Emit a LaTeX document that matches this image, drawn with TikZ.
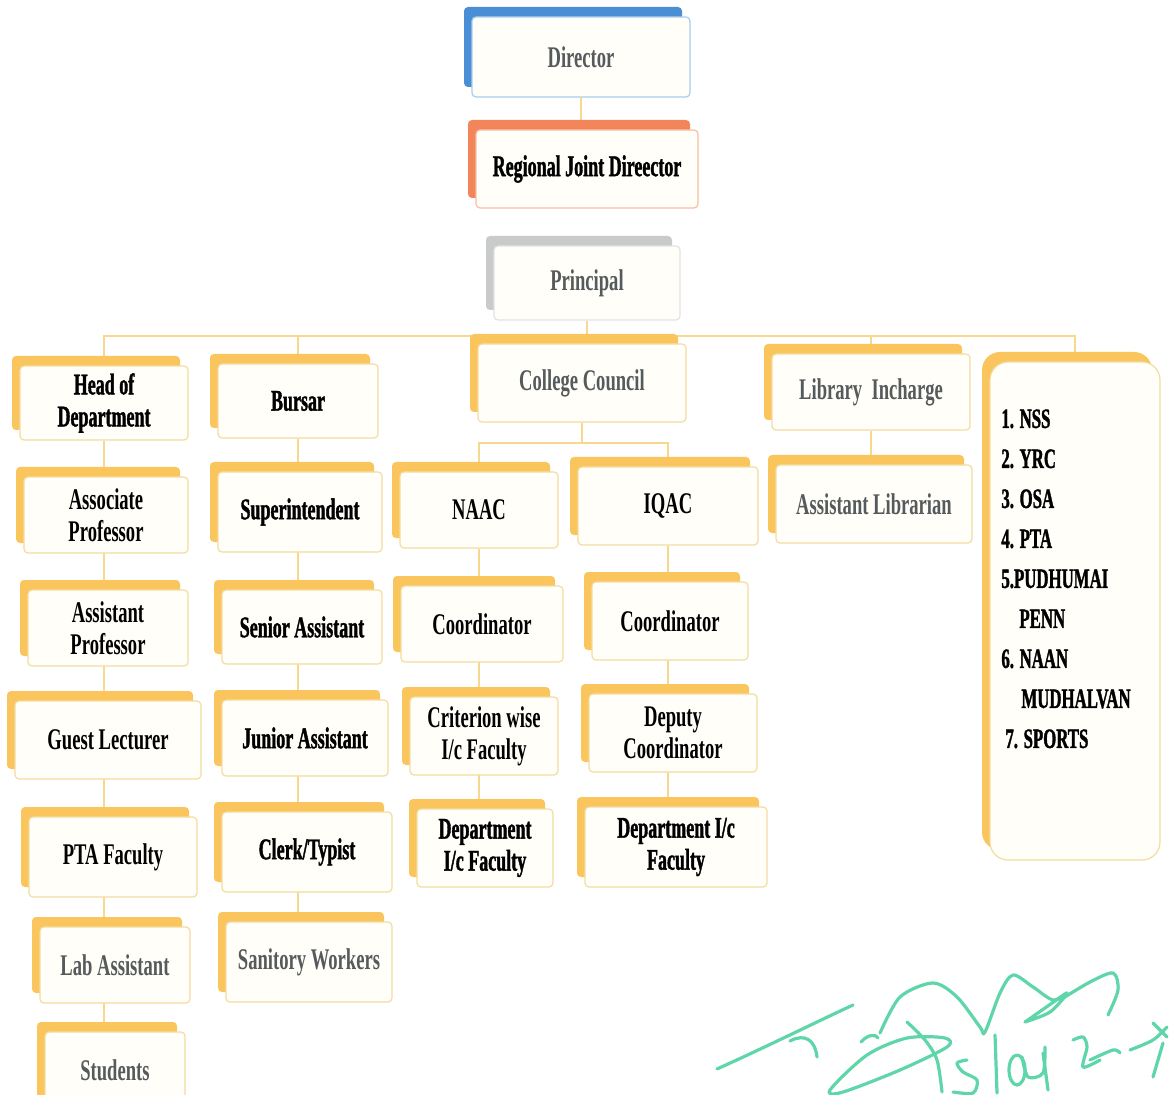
\documentclass[tikz,border=0pt]{standalone}
\usepackage{fontspec}
\newfontfamily\orgfont{Liberation Serif}[FakeStretch=0.62, BoldFont={Liberation Serif Bold}, BoldFeatures={FakeStretch=0.62}]
\newfontfamily\heavyfont{Liberation Serif Bold}[FakeStretch=0.6, FakeBold=1.2]
\usetikzlibrary{shadows,backgrounds}

\definecolor{ylback}{HTML}{F9C55C}
\definecolor{ylline}{HTML}{F7D88C}
\definecolor{ylborder}{HTML}{F3DCA0}
\definecolor{boxfill}{HTML}{FFFEF8}
\definecolor{blueback}{HTML}{4A8FD6}
\definecolor{blueborder}{HTML}{A9CDEB}
\definecolor{orangeback}{HTML}{F2855A}
\definecolor{orangeborder}{HTML}{F5BFA5}
\definecolor{grayback}{HTML}{C9CACA}
\definecolor{grayborder}{HTML}{E2E2E2}
\definecolor{txtgray}{HTML}{555A5C}
\definecolor{signgreen}{HTML}{5ED6A9}

\begin{document}
\begin{tikzpicture}[x=0.5pt, y=-0.5pt,
    orgbox/.style={draw=ylborder, fill=boxfill, line width=0.6pt, rounded corners=2pt,
      align=center, minimum height=38pt, inner sep=2pt, text=black,
      font=\orgfont\bfseries\fontsize{15}{16}\selectfont,
      general shadow={fill=#1, shadow xshift=-4pt, shadow yshift=5pt}},
    orgbox/.default=ylback,
    dim/.style={text=txtgray},
    heavy/.style={font=\heavyfont\fontsize{15}{16}\selectfont},
    listtext/.style={align=left, inner sep=0pt, text=black,
      font=\heavyfont\fontsize{14}{20}\selectfont},
    link/.style={draw=ylline, line width=1.2pt},
    sign/.style={draw=signgreen, line width=1.6pt, line cap=round, line join=round}]

  \useasboundingbox (0,0) rectangle (1170,1095);
  \clip (0,0) rectangle (1170,1095);

  % top of the chart
  \node[orgbox=blueback, draw=blueborder, dim, minimum width=109pt, minimum height=40pt] (dir) at (581,57) {Director};
  \node[orgbox=orangeback, draw=orangeborder, heavy, minimum width=111pt, minimum height=39pt] (rjd) at (587,169) {Regional Joint Direector};
  \node[orgbox=grayback, draw=grayborder, dim, minimum width=93pt, minimum height=37pt] (prin) at (587,283) {Principal};

  % second row
  \node[orgbox, heavy, minimum width=84pt, minimum height=37pt] (hod) at (104,403) {Head of\\Department};
  \node[orgbox, heavy, minimum width=80pt, minimum height=37pt] (bursar) at (298,401) {Bursar};
  \node[orgbox, dim, minimum width=104pt, minimum height=39pt] (cc) at (582,383) {College Council};
  \node[orgbox, dim, minimum width=99pt] (lib) at (871,392) {Library\ \ Incharge};
  \node[orgbox, rounded corners=9pt, minimum width=85pt, minimum height=249pt] (lst) at (1075,611) {};
  \node[listtext, anchor=north west] (lsttxt) at (1001,409) {1. NSS\\2. YRC\\3. OSA\\4. PTA\\5.PUDHUMAI\\\hspace*{9pt}PENN\\6. NAAN\\\hspace*{10pt}MUDHALVAN\\\hspace*{2pt}7. SPORTS};

  % teaching staff
  \node[orgbox, minimum width=82pt] (aprof) at (106,515) {Associate\\Professor};
  \node[orgbox, minimum width=80pt] (asprof) at (108,628) {Assistant\\Professor};
  \node[orgbox, minimum width=93pt, minimum height=39pt] (guest) at (108,740) {Guest Lecturer};
  \node[orgbox, minimum width=84pt, minimum height=40pt] (pta) at (113,857) {PTA Faculty};
  \node[orgbox, dim, minimum width=75pt] (lab) at (115,965) {Lab Assistant};
  \node[orgbox, dim, minimum width=70pt] (stud) at (115,1070) {Students};

  % office staff
  \node[orgbox, heavy, minimum width=82pt, minimum height=40pt] (supt) at (300,512) {Superintendent};
  \node[orgbox, heavy, minimum width=80pt, minimum height=37pt] (senior) at (302,627) {Senior Assistant};
  \node[orgbox, heavy, minimum width=83pt] (junior) at (305,738) {Junior Assistant};
  \node[orgbox, heavy, minimum width=85pt, minimum height=40pt] (clerk) at (307,852) {Clerk/Typist};
  \node[orgbox, dim, minimum width=83pt, minimum height=40pt] (sanit) at (309,962) {Sanitory Workers};

  % council
  \node[orgbox, minimum width=79pt] (naac) at (479,510) {NAAC};
  \node[orgbox, minimum width=90pt, minimum height=39pt] (iqac) at (668,506) {IQAC};
  \node[orgbox, minimum width=81pt] (ncoord) at (482,624) {Coordinator};
  \node[orgbox, minimum width=78pt, minimum height=39pt] (qcoord) at (670,621) {Coordinator};
  \node[orgbox, minimum width=74pt, minimum height=39pt] (crit) at (484,736) {Criterion wise\\I/c Faculty};
  \node[orgbox, minimum width=84pt, minimum height=39pt] (deputy) at (673,733) {Deputy\\Coordinator};
  \node[orgbox, heavy, minimum width=68pt, minimum height=39pt] (ndept) at (485,848) {Department\\I/c Faculty};
  \node[orgbox, heavy, minimum width=91pt, minimum height=40pt] (qdept) at (676,847) {Department I/c\\Faculty};

  % library
  \node[orgbox, dim, minimum width=98pt, minimum height=39pt] (alib) at (874,504) {Assistant Librarian};

  \coordinate (bus) at (577,336);
  \coordinate (ccbus) at (573,443);

  \begin{scope}[on background layer]
    \draw[link] (dir) -- (dir |- rjd);
    \draw[link] (prin) -- (prin |- bus);
    \draw[link] (hod) |- (bus) -| (lst);
    \draw[link] (bursar) -- (bursar |- bus);
    \draw[link] (cc) -- (cc |- bus);
    \draw[link] (lib) -- (lib |- bus);
    \draw[link] (cc) -- (cc |- ccbus);
    \draw[link] (naac) |- (ccbus) -| (iqac);
    \draw[link] (hod) -- (hod |- stud);
    \draw[link] (bursar) -- (bursar |- sanit);
    \draw[link] (naac) -- (naac |- ndept);
    \draw[link] (iqac) -- (iqac |- qdept);
    \draw[link] (lib) -- (lib |- alib);
  \end{scope}

  % signature
  \draw[sign] (717,1069) .. controls (770,1045) and (810,1025) .. (853,1005);
  \draw[sign] (790,1041) .. controls (805,1033) and (815,1040) .. (817,1057);
  \draw[sign] (861,1042) .. controls (868,1034) and (876,1034) .. (878,1038);
  \draw[sign] plot[smooth cycle] coordinates {(830,1090) (867,1055) (907,1038) (945,1038) (947,1047) (900,1070) (843,1092)};
  \draw[sign] plot[smooth] coordinates {(880,1033) (900,997) (933,983) (957,997) (980,1027) (985,1032) (1000,993) (1013,975) (1033,987) (1053,1000) (1067,993)};
  \draw[sign] plot[smooth] coordinates {(1025,1022) (1045,1008) (1067,993) (1050,1012) (1025,1022)};
  \draw[sign] plot[smooth] coordinates {(1060,1000) (1090,982) (1113,973) (1118,990) (1108,1015)};
  \draw[sign] plot[smooth] coordinates {(907,1022) (925,1040) (937,1060) (942,1092)};
  \draw[sign] plot[smooth] coordinates {(967,1060) (957,1063) (963,1072) (977,1080) (973,1093) (953,1092)};
  \draw[sign] (995,1035) -- (997,1093);
  \draw[sign] (1017,1070) ellipse [x radius=8, y radius=15];
  \draw[sign] plot[smooth] coordinates {(1022,1057) (1028,1077) (1043,1073) (1045,1047)};
  \draw[sign] (1043,1053) -- (1048,1090);
  \draw[sign] plot[smooth] coordinates {(1073,1040) (1083,1037) (1087,1047) (1083,1067) (1100,1060)};
  \draw[sign] plot[smooth] coordinates {(1090,1060) (1113,1050) (1120,1053)};
  \draw[sign] plot[smooth] coordinates {(1130,1050) (1153,1040) (1167,1027)};
  \draw[sign] (1153,1023) -- (1167,1037);
  \draw[sign] (1163,1043) -- (1153,1077);
\end{tikzpicture}
\end{document}
